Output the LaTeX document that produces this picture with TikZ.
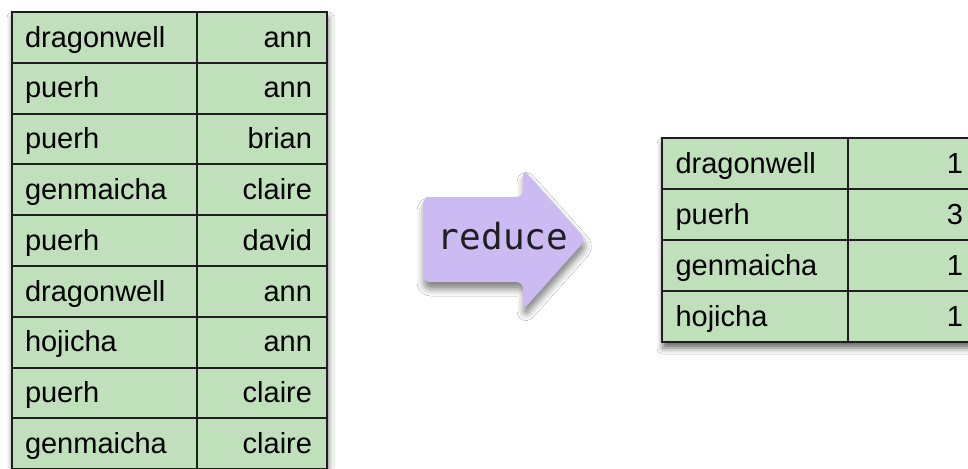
\documentclass[tikz,border=0pt]{standalone}
\usepackage{fontspec}
\setmainfont{Liberation Sans}
\newfontfamily\monofnt{DejaVu Sans Mono}
\usetikzlibrary{shadows.blur}
\definecolor{cellgreen}{RGB}{191,224,186}
\definecolor{arrowpurple}{RGB}{204,186,242}
\definecolor{edgedark}{RGB}{30,30,30}
\begin{document}
\begin{tikzpicture}[x=1pt,y=-1pt,
  cell/.style={draw=edgedark, line width=2pt, fill=cellgreen, inner sep=0pt,
    font=\fontsize{29}{31}\selectfont, text height=21.5pt, text depth=2pt},
  keycell/.style={cell, minimum width=185pt, text width=159pt, align=left},
  valcell/.style={cell, minimum width=130pt, text width=100pt, align=right},
  tablebg/.style={fill=cellgreen, inner sep=0pt,
    blur shadow={shadow xshift=1pt, shadow yshift=-6pt, shadow blur radius=6pt, shadow opacity=60}},
  arrowshape/.style={fill=arrowpurple, rounded corners=7pt,
    blur shadow={shadow xshift=1pt, shadow yshift=-7pt, shadow blur radius=7pt, shadow opacity=50}}
]
\useasboundingbox (0,0) rectangle (968,468);
\fill[white] (0,0) rectangle (968,468);
\clip (0,0) rectangle (968,468);

% left table
\node[tablebg, minimum width=315pt, minimum height=457.2pt] (ltab) at (169.5,240.6) {};
\foreach \k/\v [count=\i from 0] in {dragonwell/ann, puerh/ann, puerh/brian, genmaicha/claire, puerh/david, dragonwell/ann, hojicha/ann, puerh/claire, genmaicha/claire}{
  \node[keycell, minimum height=50.8pt] (lk\i) at (104.5,{12+50.8*(\i+0.5)}) {\k};
  \node[valcell, minimum height=50.8pt] (lv\i) at (262,{12+50.8*(\i+0.5)}) {\v};
}

% arrow
\path[arrowshape] (423,197) -- (523,197) -- (523,169) -- (586,239.5) -- (523,310) -- (523,282) -- (423,282) -- cycle;
\node[font=\monofnt\fontsize{36}{38}\selectfont, anchor=base, text=black!88] (reduce) at (503,249) {reduce};

% right table
\node[tablebg, minimum width=316pt, minimum height=204pt] (rtab) at (820,240) {};
\foreach \k/\v [count=\i from 0] in {dragonwell/1, puerh/3, genmaicha/1, hojicha/1}{
  \node[keycell, minimum width=186pt, minimum height=51pt] (rk\i) at (755,{138+51*(\i+0.5)}) {\k};
  \node[valcell, minimum height=51pt] (rv\i) at (913,{138+51*(\i+0.5)}) {\v};
}
\end{tikzpicture}
\end{document}
